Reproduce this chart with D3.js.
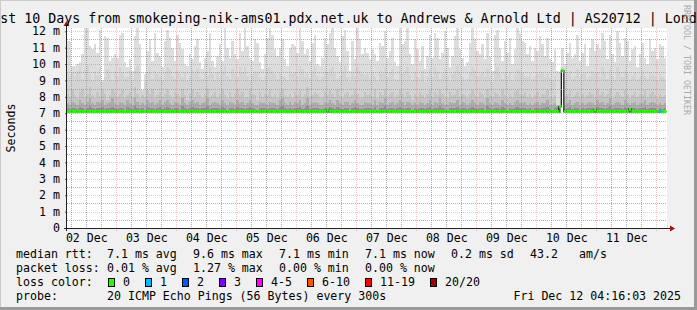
<!DOCTYPE html>
<html>
<head>
<meta charset="utf-8">
<script src="https://cdn.jsdelivr.net/npm/d3@7"></script>
<style>
  body { margin: 0; background: #f0f0f0; }
  svg { display: block; }
  text { font-family: "DejaVu Sans Mono", monospace; }
</style>
</head>
<body>
<svg id="chart" width="697" height="310"></svg>
<script>
// graph window (UTC) and hourly consolidated bins
const graphStart = Date.UTC(2025, 11, 2, 4, 16, 3);
const graphEnd = Date.UTC(2025, 11, 12, 4, 16, 3);
const firstBin = Date.UTC(2025, 11, 2, 4, 0, 0);

// smoke envelopes, ms, one value per hour (240 bins)
const smokeMax = [
  11.4, 11.4, 9.9, 9.9, 10.0, 10.1, 10.6, 12.3, 12.3, 11.1, 10.9, 11.2, 10.7, 12.1, 9.0, 11.7, 11.6, 10.2, 10.4, 10.6, 10.4, 11.8, 11.9, 10.1,
  9.8, 10.3, 9.6, 11.7, 12.3, 11.2, 8.4, 9.4, 10.8, 11.5, 10.2, 11.9, 10.7, 10.5, 9.8, 11.4, 12.1, 11.6, 11.0, 10.2, 11.8, 11.3, 10.9, 10.0,
  9.9, 10.6, 10.3, 11.1, 11.5, 10.1, 9.7, 10.4, 10.8, 11.9, 10.2, 9.8, 10.5, 11.2, 10.2, 12.3, 11.0, 10.4, 11.4, 10.6, 10.3, 11.9, 10.8, 12.2,
  11.1, 10.4, 10.2, 11.5, 11.3, 10.1, 9.7, 10.6, 11.6, 12.3, 11.8, 10.9, 10.5, 11.0, 11.5, 10.3, 9.9, 11.0, 11.2, 11.1, 10.7, 12.3, 11.4, 10.6,
  10.9, 10.2, 11.3, 11.8, 10.0, 9.9, 10.4, 11.6, 11.2, 11.9, 12.2, 11.0, 10.5, 10.1, 11.7, 12.1, 10.8, 9.6, 11.4, 10.3, 12.2, 11.5, 10.6, 11.0,
  10.7, 10.3, 10.9, 10.6, 10.2, 11.3, 11.1, 12.0, 10.4, 10.8, 11.6, 10.1, 9.9, 12.3, 11.2, 11.4, 12.2, 10.6, 10.0, 11.5, 10.9, 10.2, 11.1, 9.7,
  10.5, 11.8, 10.4, 11.9, 11.6, 10.3, 10.7, 12.0, 11.0, 9.8, 10.5, 11.7, 12.2, 10.9, 10.4, 9.9, 10.1, 11.3, 12.3, 11.5, 10.8, 10.6, 11.2, 10.3,
  11.9, 10.5, 9.6, 11.8, 12.1, 11.0, 10.2, 11.4, 10.7, 11.6, 10.0, 10.9, 12.2, 11.9, 11.4, 11.3, 10.6, 11.1, 10.2, 11.0, 10.8, 11.7, 11.2, 10.5,
  11.6, 10.3, 10.1, 10.9, 9.6, 9.5, 11.0, 10.0, 10.7, 11.3, 10.4, 10.6, 11.8, 10.2, 10.7, 11.2, 9.9, 11.0, 11.5, 10.8, 11.2, 10.9, 11.9, 11.4,
  10.3, 11.8, 10.6, 10.1, 12.0, 11.3, 10.5, 11.6, 11.4, 10.2, 10.9, 11.1, 9.8, 10.6, 11.3, 10.4, 10.0, 11.5, 10.8, 11.0, 10.3, 11.2, 11.1, 10.4
];
const smokeP2 = [
  9.4, 9.2, 9.5, 9.3, 9.6, 9.8, 9.1, 9.7, 9.9, 9.4, 9.0, 9.6, 9.3, 9.8, 8.9, 9.2, 9.7, 9.4, 9.0, 9.6, 9.3, 9.8, 9.5, 9.1,
  9.2, 9.6, 9.0, 9.7, 9.9, 9.4, 8.4, 8.9, 9.5, 9.8, 9.1, 9.6, 9.4, 9.2, 9.0, 9.5, 9.8, 9.7, 9.3, 9.1, 9.6, 9.4, 9.2, 9.5,
  9.0, 9.3, 9.6, 9.4, 9.7, 9.2, 9.1, 9.5, 9.3, 9.8, 9.4, 9.0, 9.5, 9.2, 9.6, 9.9, 9.3, 9.1, 9.7, 9.4, 9.2, 9.8, 9.5, 9.9,
  9.3, 9.0, 9.4, 9.6, 9.5, 9.2, 9.0, 9.3, 9.7, 9.8, 9.6, 9.4, 9.1, 9.5, 9.3, 9.2, 9.0, 9.6, 9.4, 9.5, 9.3, 9.9, 9.7, 9.2,
  9.4, 9.1, 9.6, 9.8, 9.3, 9.0, 9.2, 9.6, 9.5, 9.7, 9.8, 9.4, 9.1, 9.3, 9.6, 9.9, 9.2, 8.9, 9.5, 9.3, 9.8, 9.6, 9.4, 9.2,
  9.4, 9.1, 9.5, 9.3, 9.0, 9.6, 9.4, 9.8, 9.2, 9.5, 9.7, 9.1, 9.0, 9.9, 9.4, 9.6, 9.8, 9.3, 9.0, 9.5, 9.2, 9.1, 9.6, 8.9,
  9.3, 9.7, 9.2, 9.8, 9.5, 9.1, 9.4, 9.7, 9.3, 9.0, 9.4, 9.6, 9.9, 9.5, 9.2, 9.0, 9.1, 9.5, 9.8, 9.6, 9.3, 9.4, 9.5, 9.2,
  9.7, 9.3, 8.9, 9.6, 9.8, 9.4, 9.1, 9.5, 9.3, 9.6, 9.0, 9.4, 9.7, 9.6, 9.5, 9.3, 9.2, 9.4, 9.1, 9.3, 9.4, 9.6, 9.5, 9.2,
  9.4, 9.1, 9.0, 9.3, 7.5, 7.5, 9.8, 9.0, 9.4, 9.6, 9.1, 9.3, 9.7, 9.2, 9.4, 9.5, 9.1, 9.3, 9.6, 9.4, 9.5, 9.2, 9.8, 9.5,
  9.1, 9.7, 9.3, 9.0, 9.8, 9.5, 9.2, 9.6, 9.4, 9.1, 9.3, 9.5, 9.0, 9.2, 9.6, 9.3, 9.1, 9.5, 9.4, 9.3, 9.0, 9.4, 9.2, 9.1
];
const smokeP3 = [
  8.2, 8.0, 8.4, 8.1, 7.9, 8.3, 8.5, 8.0, 8.2, 8.6, 8.1, 7.9, 8.3, 8.0, 8.4, 8.2, 7.8, 8.1, 8.5, 8.3, 8.0, 8.2, 8.4, 7.9,
  8.1, 8.3, 8.0, 8.6, 8.2, 7.9, 8.1, 8.0, 8.4, 8.2, 8.5, 7.9, 8.1, 8.3, 8.0, 8.2, 8.4, 8.1, 7.9, 8.3, 8.2, 8.0, 8.5, 8.1,
  7.8, 8.2, 8.4, 8.0, 8.3, 8.1, 7.9, 8.2, 8.5, 8.0, 8.1, 8.3, 8.0, 8.2, 8.4, 8.1, 7.9, 8.3, 8.0, 8.2, 8.5, 8.1, 8.3, 7.9,
  8.0, 8.4, 8.2, 8.1, 7.8, 8.3, 8.0, 8.2, 8.1, 8.4, 8.0, 8.2, 7.9, 8.3, 8.5, 8.1, 8.0, 8.2, 7.9, 8.3, 8.1, 8.4, 8.0, 8.2,
  8.6, 8.0, 8.1, 8.3, 8.2, 7.9, 8.0, 8.3, 8.1, 8.4, 8.2, 8.0, 8.5, 8.1, 7.9, 8.2, 8.3, 8.0, 8.1, 8.4, 8.2, 7.9, 8.0, 8.3,
  8.1, 8.2, 8.0, 8.4, 7.9, 8.3, 8.1, 8.5, 8.0, 8.2, 8.3, 7.9, 8.1, 8.4, 8.2, 8.0, 8.3, 8.1, 7.8, 8.2, 8.0, 8.3, 8.1, 7.9,
  8.2, 8.4, 8.0, 8.3, 8.1, 8.5, 8.2, 8.0, 7.9, 8.3, 8.1, 8.2, 8.4, 8.0, 8.2, 8.1, 7.9, 8.2, 8.4, 8.1, 8.0, 8.3, 8.2, 7.9,
  8.5, 8.1, 8.0, 8.3, 8.2, 8.0, 8.4, 8.1, 7.9, 8.2, 8.0, 8.3, 8.4, 8.2, 8.1, 8.3, 8.0, 8.2, 7.9, 8.1, 8.3, 8.0, 8.2, 8.1,
  8.4, 8.0, 7.9, 8.1, 7.5, 7.45, 9.5, 8.0, 8.2, 8.4, 8.0, 8.1, 8.3, 7.9, 8.2, 8.0, 8.1, 8.3, 8.2, 8.0, 8.4, 8.1, 8.3, 8.0,
  8.2, 8.5, 7.9, 8.1, 8.3, 8.1, 8.0, 8.4, 8.2, 7.9, 8.1, 8.3, 8.0, 8.2, 8.1, 8.4, 8.0, 8.2, 8.3, 8.1, 7.9, 8.2, 8.0, 8.1
];
const smokeP4 = [
  7.6, 7.5, 7.7, 7.6, 7.5, 7.8, 7.6, 7.5, 7.7, 7.9, 7.6, 7.5, 7.7, 7.6, 7.8, 7.5, 7.6, 7.7, 7.9, 7.6, 7.5, 7.7, 7.6, 7.5,
  7.8, 7.6, 7.5, 7.9, 7.7, 7.5, 7.6, 7.5, 7.8, 7.6, 7.7, 7.5, 7.6, 7.8, 7.5, 7.7, 7.8, 7.6, 7.5, 7.7, 7.6, 7.5, 7.9, 7.6,
  7.5, 7.7, 7.8, 7.6, 7.7, 7.5, 7.6, 7.7, 7.9, 7.5, 7.6, 7.7, 7.6, 7.5, 7.8, 7.6, 7.5, 7.7, 7.6, 7.5, 7.8, 7.6, 7.7, 7.5,
  7.6, 7.8, 7.6, 7.5, 7.5, 7.7, 7.6, 7.6, 7.5, 7.7, 7.6, 7.6, 7.5, 7.8, 7.9, 7.6, 7.5, 7.7, 7.5, 7.7, 7.6, 7.8, 7.5, 7.6,
  7.9, 7.5, 7.6, 7.7, 7.6, 7.5, 7.5, 7.7, 7.6, 7.8, 7.6, 7.5, 7.8, 7.6, 7.5, 7.7, 7.7, 7.5, 7.6, 7.8, 7.6, 7.5, 7.5, 7.7,
  7.6, 7.6, 7.5, 7.8, 7.5, 7.7, 7.6, 7.9, 7.5, 7.6, 7.7, 7.5, 7.6, 7.8, 7.7, 7.5, 7.7, 7.6, 7.5, 7.6, 7.5, 7.7, 7.6, 7.5,
  7.6, 7.8, 7.5, 7.7, 7.6, 7.9, 7.6, 7.5, 7.5, 7.7, 7.6, 7.6, 7.8, 7.5, 7.7, 7.6, 7.5, 7.6, 7.8, 7.6, 7.5, 7.7, 7.6, 7.5,
  7.9, 7.6, 7.5, 7.7, 7.6, 7.5, 7.8, 7.6, 7.5, 7.6, 7.5, 7.7, 7.8, 7.6, 7.6, 7.7, 7.5, 7.6, 7.5, 7.6, 7.7, 7.5, 7.6, 7.6,
  7.8, 7.5, 7.5, 7.6, 7.45, 7.4, 9.5, 7.5, 7.6, 7.8, 7.5, 7.6, 7.7, 7.5, 7.6, 7.5, 7.6, 7.7, 7.6, 7.5, 7.8, 7.6, 7.7, 7.5,
  7.6, 7.9, 7.5, 7.6, 7.7, 7.6, 7.5, 7.8, 7.6, 7.5, 7.6, 7.7, 7.5, 7.6, 7.6, 7.8, 7.5, 7.6, 7.7, 7.6, 7.5, 7.6, 7.5, 7.6
];
const smokeP5 = [
  7.3, 7.25, 7.35, 7.3, 7.25, 7.4, 7.3, 7.2, 7.35, 7.45, 7.3, 7.25, 7.35, 7.3, 7.4, 7.25, 7.3, 7.35, 7.4, 7.3, 7.25, 7.35, 7.3, 7.2,
  7.4, 7.3, 7.25, 7.45, 7.35, 7.25, 7.3, 7.2, 7.4, 7.3, 7.35, 7.25, 7.3, 7.4, 7.25, 7.35, 7.4, 7.3, 7.25, 7.35, 7.3, 7.2, 7.45, 7.3,
  7.25, 7.35, 7.4, 7.3, 7.35, 7.25, 7.3, 7.35, 7.45, 7.25, 7.3, 7.35, 7.3, 7.25, 7.4, 7.3, 7.2, 7.35, 7.3, 7.25, 7.4, 7.3, 7.35, 7.25,
  7.3, 7.4, 7.3, 7.25, 7.2, 7.35, 7.3, 7.3, 7.25, 7.35, 7.3, 7.3, 7.25, 7.4, 7.45, 7.3, 7.25, 7.35, 7.25, 7.35, 7.3, 7.4, 7.25, 7.3,
  7.45, 7.25, 7.3, 7.35, 7.3, 7.25, 7.25, 7.35, 7.3, 7.4, 7.3, 7.25, 7.4, 7.3, 7.25, 7.35, 7.35, 7.2, 7.3, 7.4, 7.3, 7.25, 7.25, 7.35,
  7.3, 7.3, 7.25, 7.4, 7.2, 7.35, 7.3, 7.45, 7.25, 7.3, 7.35, 7.25, 7.3, 7.4, 7.35, 7.25, 7.35, 7.3, 7.2, 7.3, 7.25, 7.35, 7.3, 7.25,
  7.3, 7.4, 7.25, 7.35, 7.3, 7.45, 7.3, 7.25, 7.2, 7.35, 7.3, 7.3, 7.4, 7.25, 7.35, 7.3, 7.25, 7.3, 7.4, 7.3, 7.25, 7.35, 7.3, 7.2,
  7.45, 7.3, 7.25, 7.35, 7.3, 7.25, 7.4, 7.3, 7.2, 7.3, 7.25, 7.35, 7.4, 7.3, 7.3, 7.35, 7.25, 7.3, 7.2, 7.3, 7.35, 7.25, 7.3, 7.3,
  7.4, 7.25, 7.2, 7.3, 7.4, 7.4, 9.5, 7.25, 7.3, 7.4, 7.25, 7.3, 7.35, 7.2, 7.3, 7.25, 7.3, 7.35, 7.3, 7.25, 7.4, 7.3, 7.35, 7.25,
  7.3, 7.45, 7.25, 7.3, 7.35, 7.3, 7.25, 7.4, 7.3, 7.2, 7.3, 7.35, 7.25, 7.3, 7.3, 7.4, 7.25, 7.3, 7.35, 7.3, 7.2, 7.3, 7.25, 7.3
];
const smokeMin = [
  7.0, 7.0, 7.0, 7.0, 7.0, 7.0, 7.0, 7.0, 7.0, 7.0, 7.0, 7.0, 7.0, 7.0, 7.0, 7.0, 7.0, 7.0, 7.0, 7.0, 7.0, 7.0, 7.0, 7.0,
  7.0, 7.0, 7.0, 7.0, 7.0, 7.0, 7.0, 7.0, 7.0, 7.0, 7.0, 7.0, 7.0, 7.0, 7.0, 7.0, 7.0, 7.0, 7.0, 7.0, 7.0, 7.0, 7.0, 7.0,
  7.0, 7.0, 7.0, 7.0, 7.0, 7.0, 7.0, 7.0, 7.0, 7.0, 7.0, 7.0, 7.0, 7.0, 7.0, 7.0, 7.0, 7.0, 7.0, 7.0, 7.0, 7.0, 7.0, 7.0,
  7.0, 7.0, 7.0, 7.0, 7.0, 7.0, 7.0, 7.0, 7.0, 7.0, 7.0, 7.0, 7.0, 7.0, 7.0, 7.0, 7.0, 7.0, 7.0, 7.0, 7.0, 7.0, 7.0, 7.0,
  7.0, 7.0, 7.0, 7.0, 7.0, 7.0, 7.0, 7.0, 7.0, 7.0, 7.0, 7.0, 7.0, 7.0, 7.0, 7.0, 7.0, 7.0, 7.0, 7.0, 7.0, 7.0, 7.0, 7.0,
  7.0, 7.0, 7.0, 7.0, 7.0, 7.0, 7.0, 7.0, 7.0, 7.0, 7.0, 7.0, 7.0, 7.0, 7.0, 7.0, 7.0, 7.0, 7.0, 7.0, 7.0, 7.0, 7.0, 7.0,
  7.0, 7.0, 7.0, 7.0, 7.0, 7.0, 7.0, 7.0, 7.0, 7.0, 7.0, 7.0, 7.0, 7.0, 7.0, 7.0, 7.0, 7.0, 7.0, 7.0, 7.0, 7.0, 7.0, 7.0,
  7.0, 7.0, 7.0, 7.0, 7.0, 7.0, 7.0, 7.0, 7.0, 7.0, 7.0, 7.0, 7.0, 7.0, 7.0, 7.0, 7.0, 7.0, 7.0, 7.0, 7.0, 7.0, 7.0, 7.0,
  7.0, 7.0, 7.0, 7.0, 7.0, 7.0, 9.5, 7.0, 7.0, 7.0, 7.0, 7.0, 7.0, 7.0, 7.0, 7.0, 7.0, 7.0, 7.0, 7.0, 7.0, 7.0, 7.0, 7.0,
  7.0, 7.0, 7.0, 7.0, 7.0, 7.0, 7.0, 7.0, 7.0, 7.0, 7.0, 7.0, 7.0, 7.0, 7.0, 7.0, 7.0, 7.0, 7.0, 7.0, 7.0, 7.0, 7.0, 7.0
];
// median rtt (ms) and lost pings per bin
const medianRtt = [
  7.1, 7.1, 7.1, 7.1, 7.1, 7.1, 7.1, 7.1, 7.1, 7.1, 7.1, 7.1, 7.1, 7.1, 7.1, 7.1, 7.1, 7.1, 7.1, 7.1, 7.1, 7.1, 7.1, 7.1,
  7.1, 7.1, 7.1, 7.1, 7.1, 7.1, 7.1, 7.1, 7.1, 7.1, 7.1, 7.1, 7.1, 7.1, 7.1, 7.1, 7.1, 7.1, 7.1, 7.1, 7.1, 7.1, 7.1, 7.1,
  7.1, 7.1, 7.1, 7.1, 7.1, 7.1, 7.1, 7.1, 7.1, 7.1, 7.1, 7.1, 7.1, 7.1, 7.1, 7.1, 7.1, 7.1, 7.1, 7.1, 7.1, 7.1, 7.1, 7.1,
  7.1, 7.1, 7.1, 7.1, 7.1, 7.1, 7.1, 7.1, 7.1, 7.1, 7.1, 7.1, 7.1, 7.1, 7.1, 7.1, 7.1, 7.1, 7.1, 7.1, 7.1, 7.1, 7.1, 7.1,
  7.1, 7.1, 7.1, 7.1, 7.1, 7.1, 7.1, 7.1, 7.2, 7.1, 7.1, 7.1, 7.1, 7.1, 7.1, 7.1, 7.1, 7.1, 7.1, 7.1, 7.1, 7.1, 7.1, 7.1,
  7.1, 7.1, 7.1, 7.1, 7.1, 7.1, 7.1, 7.1, 7.1, 7.1, 7.1, 7.1, 7.1, 7.1, 7.1, 7.1, 7.1, 7.1, 7.1, 7.1, 7.1, 7.1, 7.1, 7.1,
  7.1, 7.1, 7.1, 7.1, 7.1, 7.1, 7.1, 7.1, 7.1, 7.1, 7.1, 7.1, 7.1, 7.1, 7.1, 7.1, 7.1, 7.1, 7.1, 7.1, 7.1, 7.1, 7.1, 7.1,
  7.1, 7.1, 7.1, 7.1, 7.1, 7.1, 7.1, 7.1, 7.1, 7.1, 7.1, 7.1, 7.1, 7.1, 7.1, 7.1, 7.1, 7.1, 7.1, 7.1, 7.1, 7.1, 7.1, 7.1,
  7.1, 7.1, 7.1, 7.1, 7.1, 7.4, 9.6, 7.1, 7.1, 7.1, 7.1, 7.1, 7.1, 7.1, 7.1, 7.1, 7.1, 7.1, 7.1, 7.2, 7.1, 7.1, 7.1, 7.1,
  7.1, 7.1, 7.1, 7.1, 7.1, 7.1, 7.1, 7.1, 7.1, 7.25, 7.1, 7.1, 7.1, 7.1, 7.1, 7.1, 7.1, 7.1, 7.1, 7.1, 7.1, 7.1, 7.1, 7.1
];
const lostPings = [
  0, 0, 0, 0, 0, 0, 0, 0, 0, 0, 0, 0, 0, 0, 0, 0, 0, 0, 0, 0, 0, 0, 0, 0,
  0, 0, 0, 0, 0, 0, 0, 0, 0, 0, 0, 0, 0, 0, 0, 0, 0, 0, 0, 0, 0, 0, 0, 0,
  0, 0, 0, 0, 0, 0, 0, 0, 0, 0, 0, 0, 0, 0, 0, 0, 0, 0, 0, 0, 0, 0, 0, 0,
  0, 0, 0, 0, 0, 0, 0, 0, 0, 0, 0, 0, 0, 0, 0, 0, 0, 0, 0, 0, 0, 0, 0, 0,
  0, 0, 0, 0, 0, 0, 0, 0, 0, 0, 0, 0, 0, 0, 0, 0, 0, 0, 0, 0, 0, 0, 0, 0,
  0, 0, 0, 0, 0, 0, 0, 0, 0, 0, 0, 0, 0, 0, 0, 0, 0, 0, 0, 0, 0, 0, 0, 0,
  0, 0, 0, 0, 0, 0, 0, 0, 0, 0, 0, 0, 0, 0, 0, 0, 0, 0, 0, 0, 0, 0, 0, 0,
  0, 0, 0, 0, 0, 0, 0, 0, 0, 0, 0, 0, 0, 0, 0, 0, 0, 0, 0, 0, 0, 0, 0, 0,
  0, 0, 0, 0, 0, 0, 0, 0, 0, 0, 0, 0, 0, 0, 0, 0, 0, 0, 0, 0, 0, 0, 0, 0,
  0, 0, 0, 0, 0, 0, 0, 0, 0, 0, 0, 0, 0, 0, 0, 0, 0, 0, 0, 0, 0, 1, 0, 0
];

const yTicks = [0, 1, 2, 3, 4, 5, 6, 7, 8, 9, 10, 11, 12];
const lossLegend = [
  { label: '0', color: '#26ff00' },
  { label: '1', color: '#00b8ff' },
  { label: '2', color: '#0059ff' },
  { label: '3', color: '#7e00ff' },
  { label: '4-5', color: '#ff00ff' },
  { label: '6-10', color: '#ff5500' },
  { label: '11-19', color: '#ff0000' },
  { label: '20/20', color: '#a10000' }
];
const rttStats = ['7.1 ms avg', '9.6 ms max', '7.1 ms min', '7.1 ms now', '0.2 ms sd', '43.2', 'am/s'];
const lossStats = ['0.01 % avg', '1.27 % max', '0.00 % min', '0.00 % now'];
const titleText = 'Last 10 Days from smokeping-nik-ams01.pdx.net.uk to Andrews & Arnold Ltd | AS20712 | London';

const style = {
    W: 697, H: 310,
    plot: { l: 67, r: 667, t: 28, b: 228 },
    charW: 7,
    font: 11.6
}

const svg = d3.select('#chart')

// frame
svg.append('rect').attr('width', style.W).attr('height', style.H).attr('fill', '#f0f0f0')
svg.append('path').attr('d', `M0,${style.H} V0 H${style.W}`).attr('stroke', '#cbcbcb').attr('stroke-width', 2).attr('fill', 'none')
svg.append('path').attr('d', `M0,${style.H - 1.5} H${style.W - 1.5} V0`).attr('stroke', '#999999').attr('stroke-width', 3).attr('fill', 'none')

const x = d3.scaleUtc()
    .domain([graphStart, graphEnd])
    .range([style.plot.l, style.plot.r]);
const y = d3.scaleLinear()
    .domain([0, 12.2])
    .range([style.plot.b, style.plot.t]);

svg.append('rect')
    .attr('x', style.plot.l).attr('y', style.plot.t)
    .attr('width', style.plot.r - style.plot.l).attr('height', style.plot.b - style.plot.t)
    .attr('fill', '#ffffff')

svg.append('clipPath').attr('id', 'plotClip')
    .append('rect')
    .attr('x', style.plot.l).attr('y', style.plot.t)
    .attr('width', style.plot.r - style.plot.l).attr('height', style.plot.b - style.plot.t)

const plot = svg.append('g').attr('clip-path', 'url(#plotClip)')

const bins = medianRtt.map((m, i) => ({
    t0: new Date(firstBin + i * 3600e3),
    t1: new Date(firstBin + (i + 1) * 3600e3),
    i: i
}))

// smoke: outer envelope first, darker inner bands on top
const smokeLayers = [
    { vals: smokeMax, color: '#dddddd' },
    { vals: smokeP2, color: '#d3d3d3' },
    { vals: smokeP3, color: '#c4c4c4' },
    { vals: smokeP4, color: '#acacac' },
    { vals: smokeP5, color: '#8e8e8e' }
]

smokeLayers.forEach(layer => {
    plot.append('g')
        .attr('shape-rendering', 'crispEdges')
        .selectAll('rect')
        .data(bins.filter(b => layer.vals[b.i] > smokeMin[b.i]))
        .join('rect')
        .attr('x', b => Math.round(x(b.t0)))
        .attr('width', b => Math.round(x(b.t1)) - Math.round(x(b.t0)))
        .attr('y', b => Math.round(y(layer.vals[b.i])))
        .attr('height', b => Math.round(y(smokeMin[b.i])) - Math.round(y(layer.vals[b.i])))
        .attr('fill', layer.color)
})

// grid
const gridG = svg.append('g').attr('shape-rendering', 'crispEdges').attr('stroke-width', 1)
const minorColor = 'rgba(143,143,143,0.7)'
const majorColor = 'rgba(222,48,48,0.3)'
const minorY = d3.range(0.5, 12.2, 1)
gridG.selectAll('line.minorY').data(minorY).join('line')
    .attr('x1', style.plot.l).attr('x2', style.plot.r)
    .attr('y1', d => Math.round(y(d)) + 0.5).attr('y2', d => Math.round(y(d)) + 0.5)
    .attr('stroke', minorColor).attr('stroke-dasharray', '1,1')
const minorX = d3.utcHour.every(6).range(new Date(graphStart), new Date(graphEnd))
    .filter(d => d.getUTCHours() !== 0)
gridG.selectAll('line.minorX').data(minorX).join('line')
    .attr('x1', d => Math.round(x(d)) + 0.5).attr('x2', d => Math.round(x(d)) + 0.5)
    .attr('y1', style.plot.t).attr('y2', style.plot.b + 2)
    .attr('stroke', minorColor).attr('stroke-dasharray', '1,1')
gridG.selectAll('line.majorY').data(yTicks.slice(1)).join('line')
    .attr('x1', style.plot.l).attr('x2', style.plot.r)
    .attr('y1', d => Math.round(y(d)) + 0.5).attr('y2', d => Math.round(y(d)) + 0.5)
    .attr('stroke', majorColor).attr('stroke-dasharray', '1,1')
const majorX = d3.utcDay.range(new Date(graphStart), new Date(graphEnd))
gridG.selectAll('line.majorX').data(majorX).join('line')
    .attr('x1', d => Math.round(x(d)) + 0.5).attr('x2', d => Math.round(x(d)) + 0.5)
    .attr('y1', style.plot.t).attr('y2', style.plot.b + 3)
    .attr('stroke', majorColor).attr('stroke-dasharray', '1,1')

// median line: thin dark step, 3px loss-coloured segments on top
const stepPts = bins.map(b => [b.t0, medianRtt[b.i]])
stepPts.push([bins[bins.length - 1].t1, medianRtt[medianRtt.length - 1]])
plot.append('path')
    .attr('d', d3.line().x(d => x(d[0])).y(d => y(d[1])).curve(d3.curveStepAfter)(stepPts))
    .attr('fill', 'none').attr('stroke', '#111').attr('stroke-width', 1.2)

const lossColor = n => n === 0 ? lossLegend[0].color : n <= 3 ? lossLegend[n].color : n <= 5 ? lossLegend[4].color : n <= 10 ? lossLegend[5].color : n < 20 ? lossLegend[6].color : lossLegend[7].color
plot.append('g')
    .selectAll('rect')
    .data(bins)
    .join('rect')
    .attr('x', b => x(b.t0))
    .attr('width', b => x(b.t1) - x(b.t0))
    .attr('y', b => y(medianRtt[b.i]) - 1.5)
    .attr('height', 3)
    .attr('fill', b => lossColor(lostPings[b.i]))

// axes
const yAxis = d3.axisLeft(y)
    .tickValues(yTicks)
    .tickFormat(d => d === 0 ? '0' : d + ' m')
    .tickSize(2)
    .tickPadding(5)
const yAxisG = svg.append('g')
    .attr('transform', `translate(${style.plot.l},0)`)
    .call(yAxis)
yAxisG.select('.domain').remove()
yAxisG.selectAll('text').attr('font-size', style.font).attr('font-family', '"DejaVu Sans Mono", monospace').attr('fill', '#000')
yAxisG.selectAll('line').attr('stroke', '#555')

// day labels centred on noon
const dayLabels = d3.utcDay.range(new Date(Date.UTC(2025, 11, 2)), new Date(graphEnd))
    .map(d => d3.utcHour.offset(d, 12))
    .filter(d => d >= graphStart && d <= graphEnd)
const xAxis = d3.axisBottom(x)
    .tickValues(dayLabels)
    .tickFormat(d3.utcFormat('%d %b'))
    .tickSize(0)
    .tickPadding(5.3)
const xAxisG = svg.append('g')
    .attr('transform', `translate(0,${style.plot.b})`)
    .call(xAxis)
xAxisG.select('.domain').remove()
xAxisG.selectAll('text').attr('font-size', style.font).attr('font-family', '"DejaVu Sans Mono", monospace').attr('fill', '#000')

// axis lines with arrows
svg.append('line').attr('x1', style.plot.l - 3).attr('x2', style.plot.r + 5)
    .attr('y1', style.plot.b + 0.5).attr('y2', style.plot.b + 0.5).attr('stroke', '#222').attr('shape-rendering', 'crispEdges')
svg.append('line').attr('x1', style.plot.l - 0.5).attr('x2', style.plot.l - 0.5)
    .attr('y1', style.plot.b + 3).attr('y2', style.plot.t - 4).attr('stroke', '#222').attr('shape-rendering', 'crispEdges')
svg.append('path').attr('d', `M${style.plot.r + 3},${style.plot.b - 2.5} L${style.plot.r + 8},${style.plot.b + 0.5} L${style.plot.r + 3},${style.plot.b + 3.5} Z`).attr('fill', '#a01010')
svg.append('path').attr('d', `M${style.plot.l - 3.5},${style.plot.t - 2} L${style.plot.l - 0.5},${style.plot.t - 7} L${style.plot.l + 2.5},${style.plot.t - 2} Z`).attr('fill', '#a01010')

// title
svg.append('text')
    .attr('x', style.W / 2).attr('y', 23)
    .attr('text-anchor', 'middle')
    .attr('font-size', 13.3)
    .text(titleText)

svg.append('text')
    .attr('transform', `translate(15,${(style.plot.t + style.plot.b) / 2}) rotate(-90)`)
    .attr('text-anchor', 'middle')
    .attr('font-size', style.font)
    .text('Seconds')

svg.append('text')
    .attr('transform', 'translate(683.5,5) rotate(90)')
    .attr('font-size', 8.3)
    .attr('fill', '#aaaaaa')
    .text('RRDTOOL / TOBI OETIKER')

// legend
const legend = svg.append('g').attr('font-size', style.font)
const statX = [107, 193, 279, 365, 451, 530, 579]
legend.append('text').attr('x', 16).attr('y', 258).text('median rtt:')
legend.selectAll('text.rtt').data(rttStats).join('text').attr('class', 'rtt')
    .attr('x', (d, i) => statX[i]).attr('y', 258).text(d => d)
legend.append('text').attr('x', 16).attr('y', 272).text('packet loss:')
legend.selectAll('text.loss').data(lossStats).join('text').attr('class', 'loss')
    .attr('x', (d, i) => statX[i]).attr('y', 272).text(d => d)
legend.append('text').attr('x', 16).attr('y', 286).text('loss color:')

let bx = 108
lossLegend.forEach(e => {
    legend.append('rect').attr('x', bx + 0.5).attr('y', 278.5).attr('width', 6).attr('height', 8)
        .attr('fill', e.color).attr('stroke', '#000').attr('stroke-width', 1)
    legend.append('text').attr('x', bx + 15).attr('y', 286).text(e.label)
    bx += 15 + e.label.length * style.charW + 15
})

legend.append('text').attr('x', 16).attr('y', 300).text('probe:')
legend.append('text').attr('x', 107).attr('y', 300).text('20 ICMP Echo Pings (56 Bytes) every 300s')
legend.append('text').attr('x', 681).attr('y', 300).attr('text-anchor', 'end').text('Fri Dec 12 04:16:03 2025')
</script>
</body>
</html>
